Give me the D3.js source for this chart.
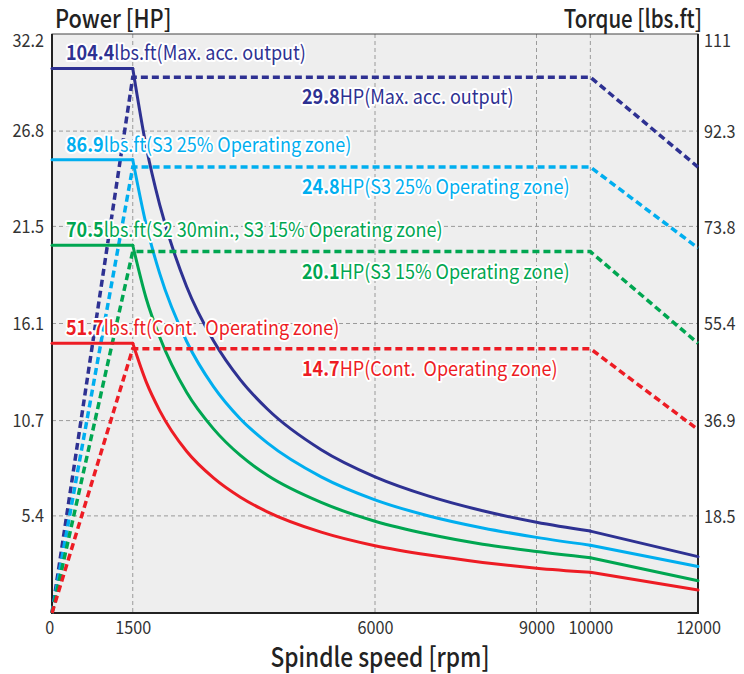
<!DOCTYPE html>
<html>
<head>
<meta charset="utf-8">
<script src="https://cdn.jsdelivr.net/npm/d3@7"></script>
<style>
  body { margin: 0; background: #fff; }
  text { font-family: "Noto Sans CJK KR", "Noto Sans", sans-serif; white-space: pre; }
</style>
</head>
<body>
<div id="chart"></div>
<script>
// spindle speed samples for torque curves
var rpm = [0, 1500, 1750, 2000, 2500, 3000, 3500, 4000, 5000, 6000, 7000, 8000, 9000, 10000, 12000];
// torque [lbs.ft]
var torqueMax = [104.4, 104.4, 89.4, 78.3, 62.6, 52.2, 44.7, 39.1, 31.3, 26.1, 22.4, 19.6, 17.4, 15.7, 10.8];
var torqueS3_25 = [86.9, 86.9, 74.4, 65.1, 52.1, 43.4, 37.2, 32.6, 26.1, 21.7, 18.6, 16.3, 14.5, 13.0, 8.9];
var torqueS3_15 = [70.5, 70.5, 60.3, 52.9, 42.3, 35.3, 30.2, 26.4, 21.2, 17.6, 15.1, 13.2, 11.8, 10.6, 6.2];
var torqueCont = [51.7, 51.7, 44.3, 38.8, 31.0, 25.9, 22.2, 19.4, 15.5, 12.9, 11.1, 9.7, 8.6, 7.8, 4.4];

// power [HP]
var powerRpm = [0, 1500, 10000, 12000];
var powerMax = [0, 29.8, 29.8, 24.8];
var powerS3_25 = [0, 24.8, 24.8, 20.3];
var powerS3_15 = [0, 20.1, 20.1, 15.0];
var powerCont = [0, 14.7, 14.7, 10.2];

var torqueNotes = ['Max. acc. output', 'S3 25% Operating zone', 'S2 30min., S3 15% Operating zone', 'Cont.  Operating zone'];
var powerNotes = ['Max. acc. output', 'S3 25% Operating zone', 'S3 15% Operating zone', 'Cont.  Operating zone'];

var xTicks = [0, 1500, 6000, 9000, 10000, 12000];
var powerTicks = [5.4, 10.7, 16.1, 21.5, 26.8, 32.2];
var torqueTicks = [18.5, 36.9, 55.4, 73.8, 92.3, 111];

var colors = ['#2e3192', '#00aeef', '#00a651', '#ed1c24'];

(function () {
  'use strict';

  var series = [
    { torque: torqueMax, power: powerMax, tNote: torqueNotes[0], pNote: powerNotes[0] },
    { torque: torqueS3_25, power: powerS3_25, tNote: torqueNotes[1], pNote: powerNotes[1] },
    { torque: torqueS3_15, power: powerS3_15, tNote: torqueNotes[2], pNote: powerNotes[2] },
    { torque: torqueCont, power: powerCont, tNote: torqueNotes[3], pNote: powerNotes[3] }
  ];

  var width = 744, height = 674;
  var pLeft = 52, pRight = 698, pTop = 34, pBottom = 613;
  // the original font is a narrow one, squeeze text horizontally
  var squeeze = 0.9;

  var svg = d3.select('#chart').append('svg')
    .attr('width', width)
    .attr('height', height);

  var x = d3.scaleLinear().domain([0, 12000]).range([pLeft, pRight]);
  var yP = d3.scaleLinear().domain([0, 32.2]).range([pBottom, pTop]);
  var yT = d3.scaleLinear().domain([0, 111]).range([pBottom, pTop]);

  function place(px, py, k) {
    return 'translate(' + px + ',' + py + ') scale(' + k + ',1)';
  }

  // plot background
  svg.append('rect')
    .attr('x', pLeft).attr('y', pTop)
    .attr('width', pRight - pLeft).attr('height', pBottom - pTop)
    .attr('fill', '#eeeeee');

  // grid
  var grid = svg.append('g').attr('stroke', '#9a9a9a').attr('stroke-dasharray', '4,3').attr('stroke-width', 1);
  grid.selectAll('.vg')
    .data(xTicks.filter(function(d) { return d > 0 && d < 12000; }))
    .enter().append('line')
      .attr('x1', function(d) { return x(d); }).attr('x2', function(d) { return x(d); })
      .attr('y1', pTop).attr('y2', pBottom);
  grid.selectAll('.hg')
    .data(powerTicks.filter(function(d) { return d < 32.2; }))
    .enter().append('line')
      .attr('x1', pLeft).attr('x2', pRight)
      .attr('y1', function(d) { return yP(d); }).attr('y2', function(d) { return yP(d); });

  // frame
  svg.append('rect')
    .attr('x', pLeft).attr('y', pTop)
    .attr('width', pRight - pLeft).attr('height', pBottom - pTop)
    .attr('fill', 'none').attr('stroke', '#444').attr('stroke-width', 1);
  svg.append('path')
    .attr('d', 'M' + pLeft + ',' + pTop + 'V' + pBottom + 'H' + pRight + 'V' + pTop)
    .attr('fill', 'none').attr('stroke', '#222').attr('stroke-width', 2);

  // axes
  var axL = svg.append('g')
    .attr('transform', 'translate(' + pLeft + ',0)')
    .call(d3.axisLeft(yP).tickValues(powerTicks).tickSize(0).tickPadding(8).tickFormat(d3.format('.1f')));
  var axR = svg.append('g')
    .attr('transform', 'translate(' + pRight + ',0)')
    .call(d3.axisRight(yT).tickValues(torqueTicks).tickSize(0).tickPadding(6)
      .tickFormat(function(d) { return d % 1 ? d.toFixed(1) : d; }));
  var axB = svg.append('g')
    .attr('transform', 'translate(0,' + pBottom + ')')
    .call(d3.axisBottom(x).tickValues(xTicks).tickSize(0).tickPadding(8).tickFormat(d3.format('d')));

  [axL, axR, axB].forEach(function(ax) {
    ax.select('.domain').remove();
    ax.selectAll('text')
      .attr('font-family', '"Noto Sans CJK KR", sans-serif')
      .attr('font-size', '18px')
      .attr('fill', '#333');
  });
  // narrow the tick labels around their anchor
  axL.selectAll('.tick text').attr('transform', 'translate(-8,0) scale(' + squeeze + ',1)').attr('x', 0);
  axR.selectAll('.tick text').attr('transform', 'translate(6,0) scale(' + squeeze + ',1)').attr('x', 0);
  axB.selectAll('.tick text').attr('transform', 'scale(' + squeeze + ',1)');
  axB.selectAll('.tick').filter(function(d) { return d === 0; }).select('text').attr('x', -3);
  // the top labels sit a little below the frame edge
  axL.selectAll('.tick text').filter(function(d) { return d === 32.2; }).attr('dy', '0.7em');
  axR.selectAll('.tick text').filter(function(d) { return d === 111; }).attr('dy', '0.7em');

  // lines
  var lineT = d3.line().x(function(d) { return x(d[0]); }).y(function(d) { return yT(d[1]); });
  var curveT = d3.line().curve(d3.curveMonotoneX).x(function(d) { return x(d[0]); }).y(function(d) { return yT(d[1]); });
  var lineP = d3.line().x(function(d) { return x(d[0]); }).y(function(d) { return yP(d[1]); });

  var lines = svg.append('g').attr('fill', 'none');
  series.forEach(function(s, i) {
    var pts = rpm.map(function(r, j) { return [r, s.torque[j]]; });
    var n = pts.length;
    var g = lines.append('g')
      .attr('stroke', colors[i])
      .attr('stroke-width', 3)
      .attr('stroke-linecap', 'round')
      .attr('stroke-linejoin', 'round');
    g.append('path').attr('d', lineT(pts.slice(0, 2)));
    g.append('path').attr('d', curveT(pts.slice(1, n - 1)));
    g.append('path').attr('d', lineT(pts.slice(n - 2)));

    var ppts = powerRpm.map(function(r, j) { return [r, s.power[j]]; });
    lines.append('path')
      .attr('d', lineP(ppts))
      .attr('stroke', colors[i])
      .attr('stroke-width', 3.5)
      .attr('stroke-dasharray', '7,4');
  });

  // annotations
  var notes = svg.append('g')
    .attr('font-size', '20px')
    .attr('stroke', '#fff')
    .attr('stroke-width', 4)
    .attr('stroke-linejoin', 'round')
    .attr('paint-order', 'stroke');

  series.forEach(function(s, i) {
    var t = notes.append('text')
      .attr('transform', place(pLeft + 14, yT(s.torque[0]) - 8, squeeze))
      .attr('xml:space', 'preserve')
      .attr('fill', colors[i]);
    t.append('tspan').attr('font-weight', 'bold').text(s.torque[0].toFixed(1));
    t.append('tspan').text('lbs.ft(' + s.tNote + ')');

    var p = notes.append('text')
      .attr('transform', place(pLeft + 250, yP(s.power[1]) + 27, squeeze))
      .attr('xml:space', 'preserve')
      .attr('fill', colors[i]);
    p.append('tspan').attr('font-weight', 'bold').text(s.power[1].toFixed(1));
    p.append('tspan').text('HP(' + s.pNote + ')');
  });

  // titles
  svg.append('text')
    .attr('transform', place(55, 28, 0.87))
    .attr('font-size', '25px').attr('font-weight', 500).attr('fill', '#222')
    .text('Power [HP]');
  svg.append('text')
    .attr('transform', place(702, 28, 0.82))
    .attr('text-anchor', 'end')
    .attr('font-size', '25px').attr('font-weight', 500).attr('fill', '#222')
    .text('Torque [lbs.ft]');
  svg.append('text')
    .attr('transform', place(380, 667, 0.84))
    .attr('text-anchor', 'middle')
    .attr('font-size', '27px').attr('font-weight', 500).attr('fill', '#222')
    .text('Spindle speed [rpm]');
}());
</script>
</body>
</html>
